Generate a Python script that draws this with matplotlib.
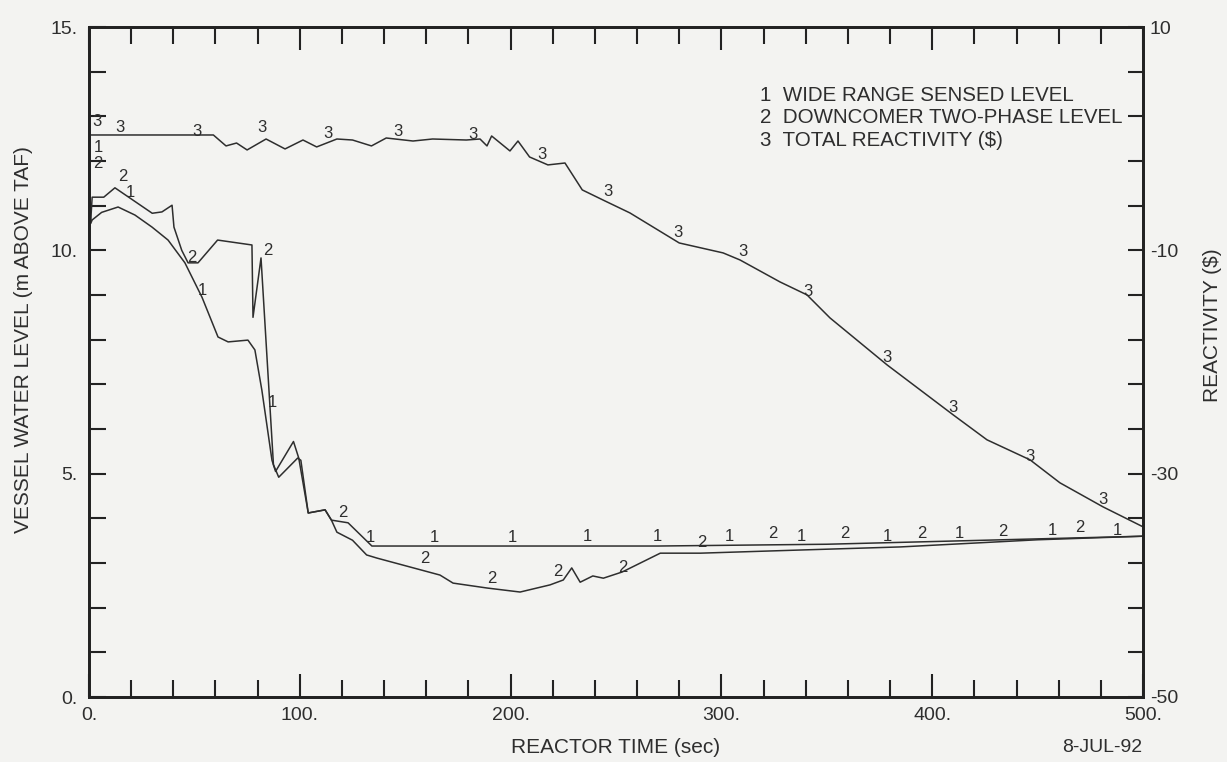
import numpy as np
import matplotlib
matplotlib.use("Agg")
import matplotlib.pyplot as plt
from matplotlib.ticker import FixedLocator, FixedFormatter

plt.rcParams['font.family'] = ['Liberation Sans', 'DejaVu Sans']

# ---------------- data ----------------
# curve 1: wide range sensed level (m above TAF)
t_wide = [0, 0.8, 1.5, 6, 13.8, 21.8, 29.9, 37.5, 45.5, 53.6, 61.2, 66, 75.4, 78.7,
          82, 86.8, 88.5, 97, 99.5, 104, 112, 115, 122.9, 134.2, 200, 270, 350,
          400, 450, 500]
l_wide = [12.1, 10.6, 10.68, 10.85, 10.97, 10.79, 10.52, 10.23, 9.72, 8.95, 8.06,
          7.95, 7.99, 7.77, 6.87, 5.3, 5.05, 5.72, 5.35, 4.12, 4.19, 3.96, 3.9,
          3.38, 3.38, 3.38, 3.42, 3.48, 3.54, 3.6]

# curve 2: downcomer two-phase level (m above TAF)
t_dc = [0, 0.8, 1.5, 7, 12.3, 30, 34.6, 39.4, 40.3, 44, 47, 51.7, 61, 77.3, 77.8,
        81.6, 87.5, 90, 99, 100.5, 104, 112, 115, 117.6, 125, 131.7, 136.6, 166.5,
        172.7, 188.8, 204.5, 218.7, 225, 229, 233, 239, 244, 253, 271, 290, 337,
        385, 450, 500]
l_dc = [11.9, 10.65, 11.19, 11.19, 11.4, 10.83, 10.86, 11.01, 10.52, 10.0, 9.72,
        9.72, 10.23, 10.12, 8.5, 9.83, 5.2, 4.92, 5.35, 5.3, 4.12, 4.19, 3.96,
        3.69, 3.51, 3.18, 3.11, 2.73, 2.55, 2.44, 2.35, 2.51, 2.62, 2.89, 2.57,
        2.71, 2.66, 2.8, 3.22, 3.22, 3.29, 3.36, 3.52, 3.6]

# curve 3: total reactivity ($)
t_react = [0, 59, 65, 70, 75, 84, 93, 101.5, 108, 117.6, 125, 134, 141, 153.7, 163,
           179, 185.5, 188.8, 191, 199.7, 203.5, 209, 217.7, 225.8, 234, 243.8,
           256.6, 280, 300.8, 308.8, 327.8, 340.6, 351.5, 378.6, 410, 426, 446.4,
           460.6, 481, 500]
r_react = [0.33, 0.33, -0.65, -0.39, -1.01, -0.03, -0.92, -0.12, -0.74, -0.03,
           -0.12, -0.65, 0.06, -0.21, -0.03, -0.12, -0.03, -0.65, 0.24, -1.1,
           -0.21, -1.64, -2.35, -2.18, -4.59, -5.49, -6.65, -9.34, -10.23, -10.86,
           -12.83, -13.99, -16.05, -20.26, -24.74, -26.97, -28.76, -30.82, -32.97,
           -34.76]

# curve-number label positions (time, left-axis level / reactivity)
lab1_t = [4.3, 19.5, 54, 86.8, 133.3, 164, 201, 236.3, 269.5, 304, 338, 378.5, 413, 457, 487.7]
lab1_l = [12.31, 11.3, 9.09, 6.6, 3.58, 3.56, 3.58, 3.6, 3.6, 3.6, 3.6, 3.6, 3.65, 3.72, 3.72]
lab2_t = [4.3, 16, 49, 85, 120.5, 159.4, 191, 222.5, 253, 290.8, 324.5, 358.6, 395, 433.6, 470]
lab2_l = [11.95, 11.65, 9.83, 10.0, 4.14, 3.11, 2.66, 2.8, 2.89, 3.45, 3.65, 3.65, 3.65, 3.7, 3.8]
lab3_t = [3.8, 14.7, 51, 82, 113.4, 146.7, 182, 215, 246, 279.5, 310, 341, 378.6, 410, 446.4, 481]
lab3_r = [1.5, 0.96, 0.6, 0.96, 0.5, 0.6, 0.33, -1.46, -4.77, -8.44, -10.14, -13.7,
          -19.6, -24.1, -28.5, -32.3]

x_major = [0, 100, 200, 300, 400, 500]
x_major_labels = ["0.", "100.", "200.", "300.", "400.", "500."]
y_major = [0, 5, 10, 15]
y_major_labels = ["0.", "5.", "10.", "15."]
r_major = [-50, -30, -10, 10]
r_major_labels = ["-50", "-30", "-10", "10"]

legend_lines = ["1  WIDE RANGE SENSED LEVEL",
                "2  DOWNCOMER TWO-PHASE LEVEL",
                "3  TOTAL REACTIVITY ($)"]

# ---------------- figure ----------------
W, H = 1227, 762
bg = '#f3f3f1'
ink = '#2e2e2e'
fig = plt.figure(figsize=(W / 100, H / 100), dpi=100, facecolor=bg)
ax = fig.add_axes([89 / W, (H - 697) / H, 1054 / W, 670 / H], facecolor=bg)
ax2 = ax.twinx()

ax.plot(t_wide, l_wide, color=ink, lw=1.1)
ax.plot(t_dc, l_dc, color=ink, lw=1.1)
ax2.plot(t_react, r_react, color=ink, lw=1.1)

ax.set_xlim(0, 500)
ax.set_ylim(0, 15)
ax2.set_ylim(-50, 10)

for a in (ax, ax2):
    for s in a.spines.values():
        s.set_linewidth(2.0)
        s.set_color('#222222')

ax.xaxis.set_major_locator(FixedLocator(x_major))
ax.xaxis.set_major_formatter(FixedFormatter(x_major_labels))
ax.xaxis.set_minor_locator(FixedLocator(list(np.arange(0, 501, 20))))
ax.yaxis.set_major_locator(FixedLocator(y_major))
ax.yaxis.set_major_formatter(FixedFormatter(y_major_labels))
ax.yaxis.set_minor_locator(FixedLocator(list(np.arange(0, 16, 1))))
ax2.yaxis.set_major_locator(FixedLocator(r_major))
ax2.yaxis.set_major_formatter(FixedFormatter(r_major_labels))
ax2.yaxis.set_minor_locator(FixedLocator(list(np.arange(-50, 11, 4))))

ax.tick_params(axis='x', which='both', direction='in', top=True, bottom=True,
               color='#222222', width=1.5, labelsize=14, labelcolor=ink, pad=7)
ax.tick_params(axis='x', which='major', length=16.5)
ax.tick_params(axis='x', which='minor', length=12)
ax.tick_params(axis='y', which='both', direction='in', left=True, right=False,
               length=12, width=1.5, color='#222222', labelsize=14, labelcolor=ink, pad=8)
ax2.tick_params(axis='y', which='both', direction='in', right=True, length=11,
                width=1.5, color='#222222', labelsize=14, labelcolor=ink, pad=5)
ax2.tick_params(axis='x', which='both', bottom=False, top=False)

ax.set_xlabel("REACTOR TIME (sec)", fontsize=15, color=ink, va='center')
ax.xaxis.set_label_coords(0.5, -0.076)
ax.set_ylabel("VESSEL WATER LEVEL (m ABOVE TAF)", fontsize=15, color=ink, va='center')
ax.yaxis.set_label_coords(-0.0617, 0.533)
ax2.set_ylabel("REACTIVITY ($)", fontsize=15, color=ink, va='center')
ax2.yaxis.set_label_coords(1.0655, 0.555)

fig.text(1142 / W, 1 - 748 / H, "8-JUL-92", fontsize=14, color=ink,
         ha='right', va='center')

# curve number labels
for tt, ll in zip(lab1_t, lab1_l):
    ax.text(tt, ll, "1", fontsize=12, color=ink, ha='center', va='center')
for tt, ll in zip(lab2_t, lab2_l):
    ax.text(tt, ll, "2", fontsize=12, color=ink, ha='center', va='center')
for tt, rr in zip(lab3_t, lab3_r):
    ax2.text(tt, rr, "3", fontsize=12, color=ink, ha='center', va='center')

# legend text block
for i, s in enumerate(legend_lines):
    ax.text(0.6366, 0.8985 - i * 0.0336, s, transform=ax.transAxes, fontsize=14.8,
            color=ink, ha='left', va='center')

fig.savefig("out.png", dpi=100, facecolor=bg)
